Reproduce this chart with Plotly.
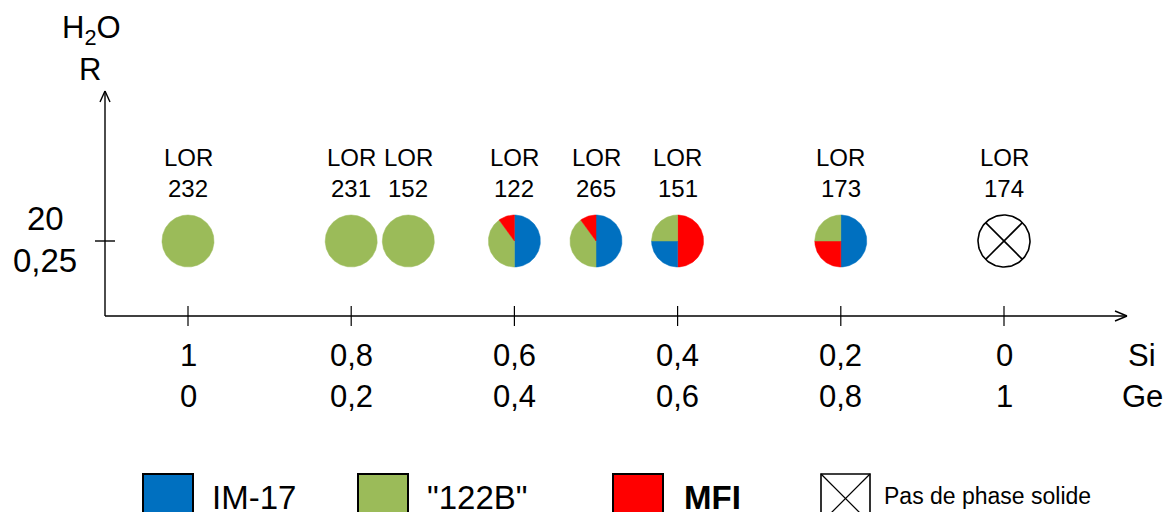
import numpy as np
import plotly.graph_objects as go

# ---- data -------------------------------------------------------------
samples = ["232", "231", "152", "122", "265", "151", "173", "174"]
ge_frac = [0.0, 0.2, 0.27, 0.4, 0.5, 0.6, 0.8, 1.0]      # Ge/(Si+Ge)
h2o_ratio = [20, 20, 20, 20, 20, 20, 20, 20]              # H2O/(Si+Ge)
im17 = [0, 0, 0, 50, 50, 25, 50, 0]                       # % IM-17
b122 = [100, 100, 100, 40, 40, 25, 25, 0]                 # % "122B"
mfi = [0, 0, 0, 10, 10, 50, 25, 0]                        # % MFI
# order of the slices, clockwise from 12 o'clock
slice_order = [
    ["IM-17", "122B", "MFI"],
    ["IM-17", "122B", "MFI"],
    ["IM-17", "122B", "MFI"],
    ["IM-17", "122B", "MFI"],
    ["IM-17", "122B", "MFI"],
    ["MFI", "IM-17", "122B"],
    ["IM-17", "MFI", "122B"],
    [],
]

tick_vals = [0.0, 0.2, 0.4, 0.6, 0.8, 1.0]
si_labels = ["1", "0,8", "0,6", "0,4", "0,2", "0"]
ge_labels = ["0", "0,2", "0,4", "0,6", "0,8", "1"]
y_tick_val = 20
y_tick_labels = ["20", "0,25"]

phase_names = ["IM-17", '"122B"', "MFI"]
phase_keys = ["IM-17", "122B", "MFI"]
phase_colors = {"IM-17": "#0070C0", "122B": "#9BBB59", "MFI": "#FF0000"}
no_solid_label = "Pas de phase solide"

# ---- geometry of the drawing -----------------------------------------
W, H = 1167, 512
X0_PX, PX_PER_X = 188, 816.0     # where Ge = 0 sits, pixels per unit Ge
Y0_PX, PX_PER_Y = 316, 3.75      # where the horizontal axis sits
R_PX = 26                        # pie radius in pixels
FONT = "Liberation Sans, Arial, sans-serif"

x_range = [-X0_PX / PX_PER_X, (W - X0_PX) / PX_PER_X]
y_range = [-(H - Y0_PX) / PX_PER_Y, Y0_PX / PX_PER_Y]


def dx(px):
    return px / PX_PER_X


def dy(px):
    return px / PX_PER_Y


def y_at(px_row):
    return (Y0_PX - px_row) / PX_PER_Y


def x_at(px_col):
    return (px_col - X0_PX) / PX_PER_X


fig = go.Figure()
values = {"IM-17": im17, "122B": b122, "MFI": mfi}
label_font = dict(size=24, color="black", family=FONT)

# ---- pies -------------------------------------------------------------
for i, name in enumerate(samples):
    cx, cy = ge_frac[i], h2o_ratio[i]

    # sample labels
    fig.add_annotation(x=cx, y=y_at(157), text="LOR", showarrow=False, font=label_font)
    fig.add_annotation(x=cx, y=y_at(188), text=name, showarrow=False, font=label_font)

    if not slice_order[i]:
        # no solid phase: crossed circle
        t = np.linspace(0, 2 * np.pi, 121)
        fig.add_trace(go.Scatter(
            x=cx + dx(R_PX * np.cos(t)), y=cy + dy(R_PX * np.sin(t)),
            mode="lines", line=dict(color="black", width=1.6),
            hoverinfo="skip", showlegend=False))
        c = R_PX * np.cos(np.pi / 4)
        for sgn in (1, -1):
            fig.add_trace(go.Scatter(
                x=[cx - dx(c), cx + dx(c)], y=[cy - sgn * dy(c), cy + sgn * dy(c)],
                mode="lines", line=dict(color="black", width=1.6),
                hoverinfo="skip", showlegend=False))
        continue

    a0 = 0.0
    for key in slice_order[i]:
        frac = values[key][i] / 100.0
        if frac <= 0:
            continue
        a1 = a0 + frac * 2 * np.pi
        n = max(4, int(frac * 160))
        th = np.linspace(a0, a1, n)
        xs = cx + dx(R_PX * np.sin(th))
        ys = cy + dy(R_PX * np.cos(th))
        if frac < 1:
            xs = np.concatenate([[cx], xs, [cx]])
            ys = np.concatenate([[cy], ys, [cy]])
        col = phase_colors[key]
        fig.add_trace(go.Scatter(
            x=xs, y=ys, mode="lines", fill="toself", fillcolor=col,
            line=dict(color=col, width=0.5),
            hoverinfo="skip", showlegend=False))
        a0 = a1

# ---- axes drawn as arrows --------------------------------------------
ax_left = x_at(105)
ax_right = x_at(1127)
ax_top = y_at(91)
axis_line = dict(color="black", width=1.4)
shapes = [
    dict(type="line", xref="x", yref="y", x0=ax_left, x1=ax_right, y0=0, y1=0, line=axis_line),
    dict(type="line", xref="x", yref="y", x0=ax_left, x1=ax_left, y0=0, y1=ax_top, line=axis_line),
    # arrow heads
    dict(type="line", xref="x", yref="y", x0=ax_right, y0=0, x1=ax_right - dx(12), y1=dy(5), line=axis_line),
    dict(type="line", xref="x", yref="y", x0=ax_right, y0=0, x1=ax_right - dx(12), y1=-dy(5), line=axis_line),
    dict(type="line", xref="x", yref="y", x0=ax_left, y0=ax_top, x1=ax_left - dx(5), y1=ax_top - dy(11), line=axis_line),
    dict(type="line", xref="x", yref="y", x0=ax_left, y0=ax_top, x1=ax_left + dx(5), y1=ax_top - dy(11), line=axis_line),
    # tick on the vertical axis
    dict(type="line", xref="x", yref="y", x0=ax_left - dx(10), x1=ax_left + dx(10),
         y0=y_tick_val, y1=y_tick_val, line=axis_line),
]
for v in tick_vals:
    shapes.append(dict(type="line", xref="x", yref="y", x0=v, x1=v,
                       y0=-dy(10), y1=dy(10), line=dict(color="black", width=1.2)))

tick_font = dict(size=31, color="black", family=FONT)
for v, s, g in zip(tick_vals, si_labels, ge_labels):
    fig.add_annotation(x=v, y=y_at(355), text=s, showarrow=False, font=tick_font)
    fig.add_annotation(x=v, y=y_at(396), text=g, showarrow=False, font=tick_font)
fig.add_annotation(x=x_at(1142), y=y_at(355), text="Si", showarrow=False, font=tick_font)
fig.add_annotation(x=x_at(1142), y=y_at(396), text="Ge", showarrow=False, font=tick_font)

ylab_font = dict(size=33, color="black", family=FONT)
fig.add_annotation(x=x_at(45), y=y_at(218), text=y_tick_labels[0], showarrow=False, font=ylab_font)
fig.add_annotation(x=x_at(45), y=y_at(260), text=y_tick_labels[1], showarrow=False, font=ylab_font)
fig.add_annotation(x=x_at(91), y=y_at(30), text="H<sub>2</sub>O", showarrow=False, font=tick_font)
fig.add_annotation(x=x_at(90), y=y_at(69), text="R", showarrow=False, font=tick_font)

# ---- legend -----------------------------------------------------------
box_left = [143, 358, 613]
text_left = [210, 425, 682]
BOX = 50
BOX_TOP = 474
for nm, key, bl, tl in zip(phase_names, phase_keys, box_left, text_left):
    shapes.append(dict(type="rect", xref="x", yref="y",
                       x0=x_at(bl), x1=x_at(bl + BOX), y0=y_at(BOX_TOP), y1=y_at(BOX_TOP + BOX),
                       fillcolor=phase_colors[key], line=dict(color="black", width=2)))
    txt = "<b>%s</b>" % nm if key == "MFI" else nm
    fig.add_annotation(x=x_at(tl), y=y_at(497), text=txt, showarrow=False,
                       xanchor="left", font=dict(size=33, color="black", family=FONT))

cb_l, cb_t = 821, 474
shapes.append(dict(type="rect", xref="x", yref="y",
                   x0=x_at(cb_l), x1=x_at(cb_l + 49), y0=y_at(cb_t), y1=y_at(cb_t + 49),
                   fillcolor="white", line=dict(color="black", width=1.6)))
shapes.append(dict(type="line", xref="x", yref="y",
                   x0=x_at(cb_l), x1=x_at(cb_l + 49), y0=y_at(cb_t), y1=y_at(cb_t + 49),
                   line=dict(color="black", width=1.2)))
shapes.append(dict(type="line", xref="x", yref="y",
                   x0=x_at(cb_l), x1=x_at(cb_l + 49), y0=y_at(cb_t + 49), y1=y_at(cb_t),
                   line=dict(color="black", width=1.2)))
fig.add_annotation(x=x_at(882), y=y_at(496), text=no_solid_label, showarrow=False,
                   xanchor="left", font=dict(size=23, color="black", family=FONT))

fig.update_layout(
    width=W, height=H,
    margin=dict(l=0, r=0, t=0, b=0),
    paper_bgcolor="white", plot_bgcolor="white",
    xaxis=dict(range=x_range, visible=False, fixedrange=True),
    yaxis=dict(range=y_range, visible=False, fixedrange=True),
    shapes=shapes,
    showlegend=False,
)

fig.write_html("out.html")
